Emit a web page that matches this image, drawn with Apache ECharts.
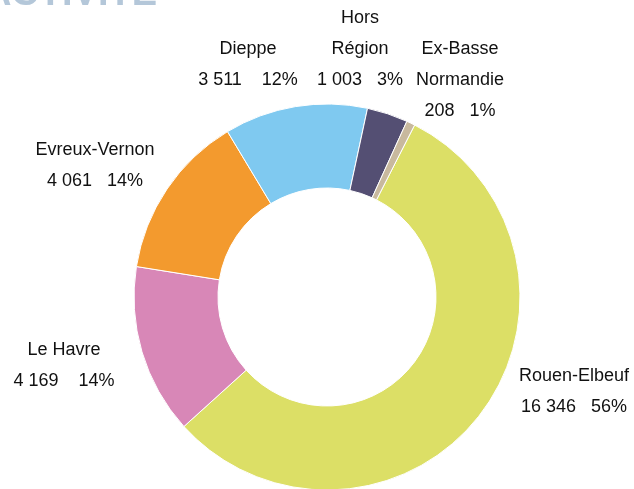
<!DOCTYPE html>
<html>
<head>
<meta charset="utf-8">
<script src="https://cdn.jsdelivr.net/npm/echarts@6/dist/echarts.min.js"></script>
<style>
html,body{margin:0;padding:0;background:#fff;}
#c{width:634px;height:489px;}
</style>
</head>
<body>
<div id="c"></div>
<script>
const categories = ["Rouen-Elbeuf", "Le Havre", "Evreux-Vernon", "Dieppe", "Hors Région", "Ex-Basse Normandie"];
const labelNames = ["Rouen-Elbeuf", "Le Havre", "Evreux-Vernon", "Dieppe", "Hors\nRégion", "Ex-Basse\nNormandie"];
const values = [16346, 4169, 4061, 3511, 1003, 208];
const colors = ["#DCDF66", "#D887B7", "#F39A2E", "#7FC9F0", "#544F73", "#C8B99E"];
const gaps = ["   ", "    ", "   ", "    ", "   ", "   "];
const labelPos = [[574, 392], [64, 366], [95, 166], [248, 65], [360, 49], [460, 80]];

function fmt(n){ return String(n).replace(/\B(?=(\d{3})+(?!\d))/g, " "); }

const chart = echarts.init(document.getElementById('c'));
chart.setOption({
  animation: false,
  graphic: [{
    type: 'text', x: 157, y: -5,
    style: { text: 'ACTIVITE', fill: '#B4C7D9', font: 'bold 38px "Liberation Sans"', align: 'right', verticalAlign: 'middle' }
  }],
  series: [{
    type: 'pie',
    center: [327, 297],
    radius: [109, 193],
    startAngle: 63,
    clockwise: true,
    percentPrecision: 0,
    itemStyle: { borderColor: '#fff', borderWidth: 1 },
    label: {
      show: true,
      position: 'outside',
      overflow: 'none',
      fontFamily: '"Liberation Sans", sans-serif',
      fontSize: 18,
      lineHeight: 31,
      color: '#111',
      align: 'center',
      formatter: p => labelNames[p.dataIndex] + '\n' + fmt(p.value) + gaps[p.dataIndex] + Math.round(p.percent) + '%'
    },
    labelLine: { show: false },
    labelLayout: p => ({ x: labelPos[p.dataIndex][0], y: labelPos[p.dataIndex][1], align: 'center', verticalAlign: 'middle', width: 200 }),
    emphasis: { disabled: true },
    data: categories.map((c, i) => ({ name: c, value: values[i], itemStyle: { color: colors[i] } }))
  }]
});
</script>
</body>
</html>
